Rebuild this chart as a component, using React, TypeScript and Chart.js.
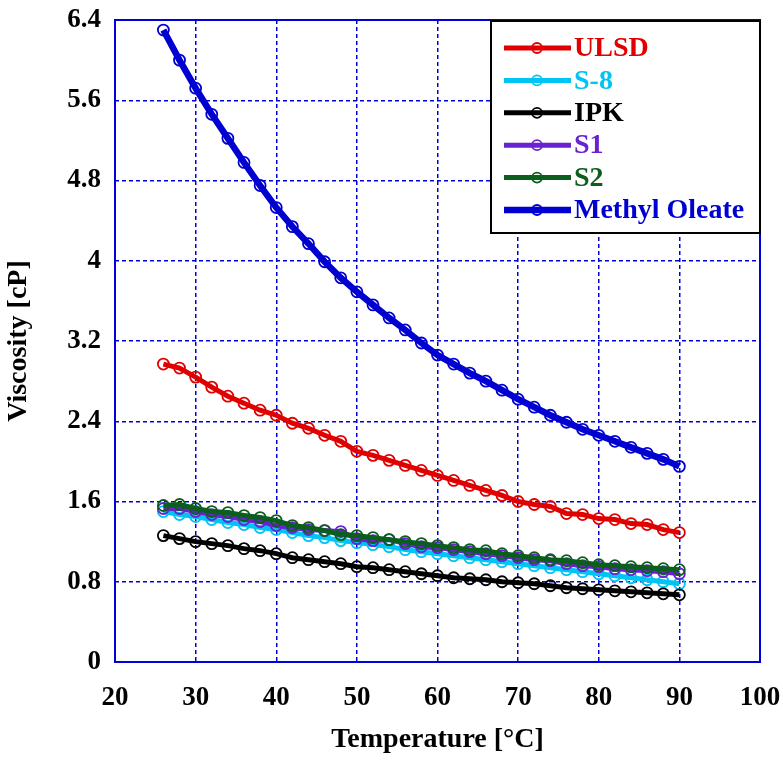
import React, { useEffect, useRef } from "react";
import { Chart, registerables } from "chart.js";

Chart.register(...registerables);

const temperatures = [26, 28, 30, 32, 34, 36, 38, 40, 42, 44, 46, 48, 50, 52, 54, 56, 58, 60, 62, 64, 66, 68, 70, 72, 74, 76, 78, 80, 82, 84, 86, 88, 90];

const ulsd = [2.97, 2.93, 2.84, 2.74, 2.65, 2.58, 2.51, 2.46, 2.38, 2.33, 2.26, 2.2, 2.1, 2.06, 2.01, 1.96, 1.91, 1.86, 1.81, 1.76, 1.71, 1.66, 1.6, 1.57, 1.55, 1.48, 1.47, 1.43, 1.42, 1.38, 1.37, 1.32, 1.29];
const s8 = [1.5, 1.47, 1.45, 1.42, 1.39, 1.37, 1.34, 1.32, 1.29, 1.26, 1.24, 1.21, 1.19, 1.17, 1.15, 1.12, 1.1, 1.08, 1.06, 1.04, 1.02, 1.0, 0.98, 0.96, 0.94, 0.92, 0.9, 0.88, 0.86, 0.84, 0.82, 0.8, 0.78];
const ipk = [1.26, 1.23, 1.2, 1.18, 1.16, 1.13, 1.11, 1.08, 1.04, 1.02, 1.0, 0.98, 0.95, 0.94, 0.92, 0.9, 0.88, 0.86, 0.84, 0.83, 0.82, 0.8, 0.79, 0.78, 0.76, 0.74, 0.73, 0.72, 0.71, 0.7, 0.69, 0.68, 0.67];
const s1 = [1.53, 1.53, 1.5, 1.47, 1.45, 1.42, 1.4, 1.36, 1.34, 1.32, 1.31, 1.3, 1.23, 1.21, 1.22, 1.18, 1.15, 1.14, 1.12, 1.1, 1.08, 1.06, 1.04, 1.02, 1.01, 0.98, 0.96, 0.95, 0.93, 0.92, 0.91, 0.9, 0.88];
const s2 = [1.56, 1.57, 1.53, 1.5, 1.49, 1.46, 1.44, 1.41, 1.36, 1.34, 1.31, 1.27, 1.26, 1.24, 1.22, 1.2, 1.18, 1.16, 1.14, 1.12, 1.11, 1.08, 1.06, 1.04, 1.02, 1.01, 0.99, 0.97, 0.96, 0.95, 0.94, 0.93, 0.92];
const methylOleate = [6.3, 6.0, 5.72, 5.46, 5.22, 4.98, 4.75, 4.53, 4.34, 4.17, 3.99, 3.83, 3.69, 3.56, 3.43, 3.31, 3.18, 3.06, 2.97, 2.88, 2.8, 2.71, 2.62, 2.54, 2.46, 2.39, 2.32, 2.26, 2.2, 2.14, 2.08, 2.02, 1.95];

const seriesNames = ["ULSD", "S-8", "IPK", "S1", "S2", "Methyl Oleate"];
const seriesValues = [ulsd, s8, ipk, s1, s2, methylOleate];
const seriesColors = ["#e00000", "#00c4f4", "#000000", "#6a22d0", "#0b5e1c", "#0000d0"];
const seriesWidths = [5, 5, 5, 5, 5, 6.5];

const xTickLabels = ["20", "30", "40", "50", "60", "70", "80", "90", "100"];
const yTickLabels = ["0", "0.8", "1.6", "2.4", "3.2", "4", "4.8", "5.6", "6.4"];

const FONT = "'Liberation Serif', 'Times New Roman', Times, serif";
const GRID = "#0000dc";

const framePlugin = {
  id: "frame",
  beforeDatasetsDraw(chart: any) {
    const { ctx, chartArea } = chart;
    ctx.save();
    ctx.strokeStyle = GRID;
    ctx.lineWidth = 2;
    ctx.setLineDash([]);
    ctx.strokeRect(chartArea.left, chartArea.top, chartArea.right - chartArea.left, chartArea.bottom - chartArea.top);
    ctx.restore();
  },
};

const legendPlugin = {
  id: "boxLegend",
  afterDraw(chart: any) {
    const { ctx, chartArea } = chart;
    const right = chartArea.right;
    const left = right - 269;
    const top = chartArea.top + 1;
    const bottom = top + 212;
    ctx.save();
    ctx.fillStyle = "#ffffff";
    ctx.fillRect(left, top, right - left, bottom - top);
    ctx.strokeStyle = "#000000";
    ctx.lineWidth = 2;
    ctx.setLineDash([]);
    ctx.strokeRect(left, top, right - left, bottom - top);
    chart.data.datasets.forEach((ds: any, i: number) => {
      const y = top + 27 + i * 32.4;
      ctx.strokeStyle = ds.borderColor;
      ctx.lineWidth = ds.borderWidth;
      ctx.beginPath();
      ctx.moveTo(left + 13, y);
      ctx.lineTo(left + 80, y);
      ctx.stroke();
      ctx.lineWidth = 1.8;
      ctx.beginPath();
      ctx.arc(left + 46, y, 5, 0, Math.PI * 2);
      ctx.stroke();
      ctx.fillStyle = ds.borderColor;
      ctx.font = `bold 28px ${FONT}`;
      ctx.textBaseline = "middle";
      ctx.textAlign = "left";
      ctx.fillText(ds.label, left + 83, y + 1);
    });
    ctx.restore();
  },
};

export default function App() {
  const ref = useRef<HTMLCanvasElement | null>(null);

  useEffect(() => {
    if (!ref.current) return;
    const datasets = seriesNames.map((name, i) => ({
      label: name,
      data: temperatures.map((t, j) => ({ x: t, y: seriesValues[i][j] })),
      borderColor: seriesColors[i],
      backgroundColor: seriesColors[i],
      borderWidth: seriesWidths[i],
      pointRadius: 5.5,
      pointBorderWidth: 1.8,
      pointBorderColor: seriesColors[i],
      pointBackgroundColor: "rgba(0,0,0,0)",
      pointStyle: "circle",
      tension: 0,
      fill: false,
      order: 10 - i,
    }));

    const chart = new Chart(ref.current, {
      type: "line",
      data: { datasets },
      options: {
        animation: false,
        responsive: false,
        events: [],
        layout: { padding: { top: 20, right: 23, left: 0, bottom: 0 } },
        plugins: { legend: { display: false }, tooltip: { enabled: false } },
        scales: {
          x: {
            type: "linear",
            min: 20,
            max: 100,
            ticks: {
              stepSize: 10,
              color: "#000",
              font: { family: FONT, size: 27, weight: "bold" },
              padding: 20,
              maxRotation: 0,
              autoSkip: false,
              callback: (_v: any, i: number) => xTickLabels[i],
            },
            grid: { color: GRID, lineWidth: 1.5, drawTicks: false },
            border: { display: false, dash: [4, 3] },
            title: {
              display: true,
              text: "Temperature [°C]",
              color: "#000",
              font: { family: FONT, size: 28, weight: "bold" },
              padding: { top: 0, bottom: 4 },
            },
            afterFit: (s: any) => {
              s.height = 99;
              s.paddingLeft = 0;
              s.paddingRight = 0;
            },
          },
          y: {
            type: "linear",
            min: 0,
            max: 6.4,
            ticks: {
              stepSize: 0.8,
              color: "#000",
              font: { family: FONT, size: 27, weight: "bold" },
              padding: 14,
              autoSkip: false,
              callback: (_v: any, i: number) => yTickLabels[i],
            },
            grid: { color: GRID, lineWidth: 1.5, drawTicks: false },
            border: { display: false, dash: [4, 3] },
            title: {
              display: true,
              text: "Viscosity [cP]",
              color: "#000",
              font: { family: FONT, size: 28, weight: "bold" },
              padding: { top: 2, bottom: 0 },
            },
            afterFit: (s: any) => {
              s.width = 115;
              s.paddingTop = 0;
              s.paddingBottom = 0;
            },
          },
        },
      },
      plugins: [framePlugin, legendPlugin],
    } as any);
    return () => chart.destroy();
  }, []);

  return (
    <div style={{ position: "fixed", left: 0, top: 0, width: 783, height: 761, background: "#fff" }}>
      <canvas ref={ref} width={783} height={761} style={{ display: "block" }} />
    </div>
  );
}
